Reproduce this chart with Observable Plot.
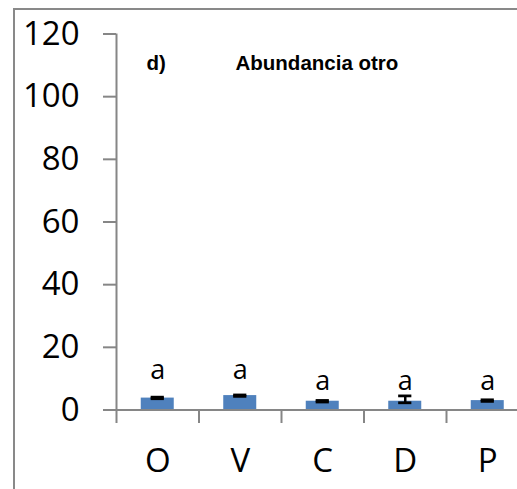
<!DOCTYPE html>
<html><head><meta charset="utf-8">
<script src="https://cdn.jsdelivr.net/npm/d3@7"></script>
<script src="https://cdn.jsdelivr.net/npm/@observablehq/plot@0.6"></script>
<style>
html,body{margin:0;padding:0;background:#fff;overflow:hidden;}
#wrap{position:relative;width:517px;height:489px;overflow:hidden;}
#frame{position:absolute;left:13px;top:8px;right:-10px;bottom:-10px;border-left:2px solid #898989;border-top:2px solid #898989;pointer-events:none;}
</style></head><body><div id="wrap"><div id="chart"></div><div id="frame"></div></div>
<script>
const categories = ["O", "V", "C", "D", "P"];
const means = [3.8, 4.6, 2.8, 2.8, 3.0];
const errUp = [0.3, 0.2, 0.25, 1.7, 0.25];
const errDown = [0.2, 0.25, 0.25, 0.5, 0.25];
const letters = ["a", "a", "a", "a", "a"];
const letterY = [12.6, 12.6, 9.1, 9.1, 9.1];
const yTicks = [0, 20, 40, 60, 80, 100, 120];
const panelLabel = "d)";
const titleText = "Abundancia otro";

const grey = "#868686";
const rows = categories.map((c, i) => ({
  i, c, mean: means[i], hi: means[i] + errUp[i], lo: means[i] - errDown[i],
  letter: letters[i], ly: letterY[i]
}));
const boundaries = categories.slice(1).map((_, i) => i + 0.5);
const capW = 0.08;
const titleFont = "'Liberation Sans', Arial, sans-serif";

const plot = Plot.plot({
  width: 517, height: 489,
  marginLeft: 116, marginTop: 33.5, marginBottom: 79.5, marginRight: 0,
  style: {fontFamily: "'Open Sans', sans-serif", background: "transparent", color: "#000"},
  x: {type: "linear", domain: [-0.5, categories.length - 0.5], range: [116, 528.5], label: null},
  y: {domain: [0, 120], label: null},
  marks: [
    Plot.rectY(rows, {x1: d => d.i - 0.2, x2: d => d.i + 0.2, y1: 0, y2: "mean", fill: "#4F81BD"}),
    Plot.ruleY([0], {stroke: grey, strokeWidth: 2}),
    Plot.ruleX([-0.5], {stroke: grey, strokeWidth: 2, insetBottom: -13.5}),
    Plot.ruleX(boundaries, {y1: 0, y2: 0, insetBottom: -13.5, stroke: grey, strokeWidth: 2}),
    Plot.axisY({ticks: yTicks, tickSize: 13, tickPadding: 24, fontSize: 33, stroke: grey, strokeWidth: 2, tickFormat: d => d, label: null}),
    Plot.axisX({ticks: rows.map(d => d.i), tickFormat: i => categories[i], tickSize: 0, tickPadding: 38.5, fontSize: 33, label: null}),
    Plot.ruleX(rows, {x: "i", y1: "lo", y2: "hi", stroke: "#000", strokeWidth: 2.5}),
    Plot.ruleY(rows, {y: "hi", x1: d => d.i - capW, x2: d => d.i + capW, stroke: "#000", strokeWidth: 2.75}),
    Plot.ruleY(rows, {y: "lo", x1: d => d.i - capW, x2: d => d.i + capW, stroke: "#000", strokeWidth: 2.75}),
    Plot.text(rows, {x: "i", y: "ly", text: "letter", fontSize: 27, lineAnchor: "middle", fill: "#000"}),
    Plot.text([panelLabel], {frameAnchor: "top-left", dx: 30, dy: 21, textAnchor: "start", lineAnchor: "top", fontSize: 20.5, fontWeight: "bold", fontFamily: titleFont, fill: "#000"}),
    Plot.text([titleText], {frameAnchor: "top-left", dx: 119, dy: 21, textAnchor: "start", lineAnchor: "top", fontSize: 20.5, fontWeight: "bold", fontFamily: titleFont, fill: "#000"})
  ]
});
document.getElementById("chart").appendChild(plot);
</script>
</body></html>
